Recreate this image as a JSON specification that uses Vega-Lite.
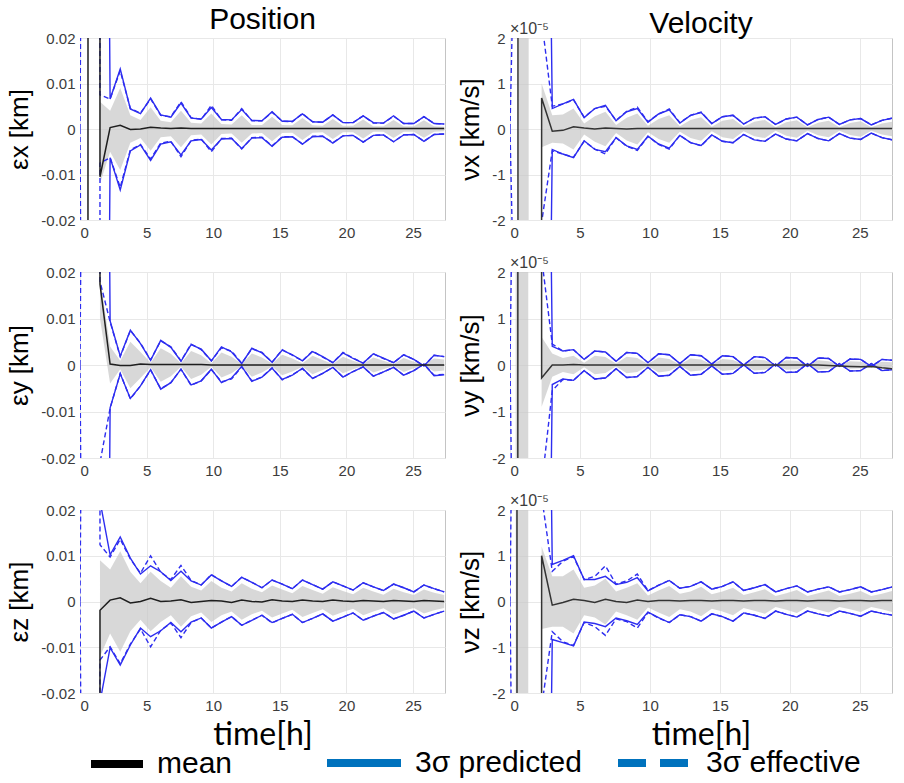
{
"$schema": "https://vega.github.io/schema/vega-lite/v6.json",
"background": "white",
"padding": {"left": 6, "top": 4, "right": 4, "bottom": 2},
"bounds": "flush",
"align": "each",
"columns": 2,
"spacing": {"row": 52, "column": 65},
"config": {
  "view": {"stroke": "#c4c4c4", "strokeWidth": 1},
  "font": "Liberation Sans",
  "axis": {"domain": false, "ticks": false, "grid": true, "gridColor": "#e8e8e8", "gridWidth": 1, "labelFont": "Liberation Sans", "labelFontSize": 15, "labelColor": "#3c3c3c", "labelPadding": 5, "titleFont": "Liberation Sans", "titleFontWeight": "normal", "titleColor": "black"},
  "axisY": {"titleFontSize": 26, "titlePadding": 8},
  "axisX": {"titleFontSize": 32, "titleFont": "Lato", "titlePadding": 6},
  "title": {"font": "Liberation Sans", "fontSize": 30, "fontWeight": "normal", "color": "black", "offset": -4},
  "legend": {"labelFont": "Liberation Sans", "labelFontSize": 30, "labelColor": "black", "labelLimit": 400, "symbolType": "stroke", "symbolStrokeWidth": 8, "symbolOpacity": 1, "direction": "horizontal", "orient": "none", "title": null, "labelOffset": 10, "columnPadding": 20}
},
"datasets": {
"A": [
{"t":0,"m":-0.3,"pu":0.3,"pl":-0.3,"eu":0,"el":0,"gu":0.3,"gl":0.3},
{"t":0.59,"m":-0.3,"pu":0.3,"pl":-0.3,"eu":0.3,"el":-0.3,"gu":0.3,"gl":0.3},
{"t":0.61,"m":0.3,"pu":0.3,"pl":-0.3,"eu":0.3,"el":-0.3,"gu":0.3,"gl":0.3},
{"t":1.49,"m":0.3,"pu":0.3,"pl":-0.3,"eu":0.3,"el":-0.3,"gu":0.3,"gl":0.3},
{"t":1.5,"m":-0.0105,"pu":0.3,"pl":-0.3,"eu":0.0075,"el":-0.0075,"gu":0.006,"gl":-0.012},
{"t":2.26,"m":0.0003,"pu":0.0066,"pl":-0.0063,"eu":0.0066,"el":-0.0063,"gu":0.004,"gl":-0.005},
{"t":3.02,"m":0.0008,"pu":0.0132,"pl":-0.0134,"eu":0.0128,"el":-0.0128,"gu":0.009,"gl":-0.009},
{"t":3.78,"m":-0.0001,"pu":0.0044,"pl":-0.0048,"eu":0.0045,"el":-0.0046,"gu":0.003,"gl":-0.003},
{"t":4.54,"m":0.0,"pu":0.0034,"pl":-0.0035,"eu":0.0035,"el":-0.0034,"gu":0.002,"gl":-0.002},
{"t":5.3,"m":0.0004,"pu":0.0068,"pl":-0.0069,"eu":0.0066,"el":-0.0066,"gu":0.0048,"gl":-0.0048},
{"t":6.06,"m":0.0002,"pu":0.0031,"pl":-0.0033,"eu":0.003,"el":-0.0031,"gu":0.0018,"gl":-0.0018},
{"t":6.82,"m":0.0001,"pu":0.0026,"pl":-0.0028,"eu":0.0027,"el":-0.0027,"gu":0.0015,"gl":-0.0016},
{"t":7.58,"m":0.0002,"pu":0.0057,"pl":-0.0057,"eu":0.006,"el":-0.0061,"gu":0.004,"gl":-0.004},
{"t":8.34,"m":0.0001,"pu":0.0024,"pl":-0.0026,"eu":0.0025,"el":-0.0025,"gu":0.0014,"gl":-0.0014},
{"t":9.1,"m":0.0001,"pu":0.0022,"pl":-0.0023,"eu":0.0021,"el":-0.0022,"gu":0.0012,"gl":-0.0012},
{"t":9.86,"m":0.0001,"pu":0.0047,"pl":-0.0046,"eu":0.0052,"el":-0.005,"gu":0.0034,"gl":-0.0034},
{"t":10.62,"m":0.0001,"pu":0.0021,"pl":-0.0022,"eu":0.002,"el":-0.0021,"gu":0.0011,"gl":-0.0011},
{"t":11.38,"m":0.0001,"pu":0.002,"pl":-0.0021,"eu":0.0019,"el":-0.002,"gu":0.001,"gl":-0.001},
{"t":12.14,"m":0.0001,"pu":0.0043,"pl":-0.0043,"eu":0.0045,"el":-0.0044,"gu":0.003,"gl":-0.003},
{"t":12.9,"m":0.0001,"pu":0.0019,"pl":-0.002,"eu":0.0018,"el":-0.0019,"gu":0.0009,"gl":-0.001},
{"t":13.66,"m":0.0001,"pu":0.0018,"pl":-0.0019,"eu":0.0018,"el":-0.0018,"gu":0.0009,"gl":-0.0009},
{"t":14.42,"m":0.0001,"pu":0.0038,"pl":-0.0038,"eu":0.0037,"el":-0.0037,"gu":0.0027,"gl":-0.0027},
{"t":15.18,"m":0.0001,"pu":0.0017,"pl":-0.0018,"eu":0.0017,"el":-0.0017,"gu":0.0009,"gl":-0.0009},
{"t":15.94,"m":0.0001,"pu":0.0017,"pl":-0.0017,"eu":0.0016,"el":-0.0017,"gu":0.0008,"gl":-0.0008},
{"t":16.7,"m":0.0001,"pu":0.0033,"pl":-0.0033,"eu":0.0034,"el":-0.0033,"gu":0.0024,"gl":-0.0024},
{"t":17.46,"m":0.0001,"pu":0.0016,"pl":-0.0017,"eu":0.0016,"el":-0.0016,"gu":0.0008,"gl":-0.0008},
{"t":18.22,"m":0.0001,"pu":0.0015,"pl":-0.0016,"eu":0.0015,"el":-0.0016,"gu":0.0007,"gl":-0.0007},
{"t":18.98,"m":0.0001,"pu":0.0031,"pl":-0.0031,"eu":0.0031,"el":-0.003,"gu":0.0022,"gl":-0.0022},
{"t":19.74,"m":0.0001,"pu":0.0014,"pl":-0.0015,"eu":0.0014,"el":-0.0015,"gu":0.0007,"gl":-0.0007},
{"t":20.5,"m":0.0001,"pu":0.0014,"pl":-0.0014,"eu":0.0014,"el":-0.0014,"gu":0.0007,"gl":-0.0007},
{"t":21.26,"m":0.0001,"pu":0.0029,"pl":-0.0029,"eu":0.0029,"el":-0.0029,"gu":0.0021,"gl":-0.0021},
{"t":22.02,"m":0.0001,"pu":0.0014,"pl":-0.0014,"eu":0.0013,"el":-0.0014,"gu":0.0006,"gl":-0.0006},
{"t":22.78,"m":0.0001,"pu":0.0013,"pl":-0.0013,"eu":0.0013,"el":-0.0013,"gu":0.0006,"gl":-0.0006},
{"t":23.54,"m":0.0001,"pu":0.0029,"pl":-0.0028,"eu":0.0028,"el":-0.0028,"gu":0.002,"gl":-0.002},
{"t":24.3,"m":0.0001,"pu":0.0012,"pl":-0.0013,"eu":0.0012,"el":-0.0013,"gu":0.0006,"gl":-0.0006},
{"t":25.06,"m":0.0001,"pu":0.0012,"pl":-0.0012,"eu":0.0012,"el":-0.0012,"gu":0.0006,"gl":-0.0006},
{"t":25.82,"m":0.0001,"pu":0.0027,"pl":-0.0027,"eu":0.0027,"el":-0.0027,"gu":0.0019,"gl":-0.0019},
{"t":26.58,"m":0.0001,"pu":0.0012,"pl":-0.0012,"eu":0.0012,"el":-0.0012,"gu":0.0006,"gl":-0.0006},
{"t":27.34,"m":0.0001,"pu":0.0011,"pl":-0.0011,"eu":0.0011,"el":-0.0011,"gu":0.0005,"gl":-0.0005}
],
"B": [
{"t":0,"m":0.3,"pu":0.3,"pl":-0.3,"eu":0,"el":0,"gu":-0.3,"gl":-0.3},
{"t":0.75,"m":0.3,"pu":0.3,"pl":-0.3,"eu":0.3,"el":-0.3,"gu":-0.3,"gl":-0.3},
{"t":1.49,"m":0.3,"pu":0.3,"pl":-0.3,"eu":0.3,"el":-0.3,"gu":-0.3,"gl":-0.3},
{"t":1.5,"m":0.0174,"pu":0.3,"pl":-0.3,"eu":0.018,"el":-0.021,"gu":0.019,"gl":0.01},
{"t":2.26,"m":0.0002,"pu":0.0095,"pl":-0.0092,"eu":0.0093,"el":-0.0093,"gu":0.004,"gl":-0.004},
{"t":3.02,"m":-0.0001,"pu":0.0019,"pl":-0.0019,"eu":0.0018,"el":-0.0018,"gu":0.0009,"gl":-0.0009},
{"t":3.78,"m":-0.0001,"pu":0.0075,"pl":-0.0072,"eu":0.0074,"el":-0.0073,"gu":0.005,"gl":-0.005},
{"t":4.54,"m":0.0002,"pu":0.0046,"pl":-0.0045,"eu":0.0047,"el":-0.0045,"gu":0.0028,"gl":-0.0028},
{"t":5.3,"m":0.0001,"pu":0.001,"pl":-0.001,"eu":0.0011,"el":-0.0011,"gu":0.0005,"gl":-0.0005},
{"t":6.06,"m":0.0001,"pu":0.0053,"pl":-0.0052,"eu":0.0052,"el":-0.0051,"gu":0.0036,"gl":-0.0036},
{"t":6.82,"m":0.0001,"pu":0.0038,"pl":-0.0038,"eu":0.0039,"el":-0.0038,"gu":0.0024,"gl":-0.0024},
{"t":7.58,"m":0.0001,"pu":0.0008,"pl":-0.0009,"eu":0.0009,"el":-0.0009,"gu":0.0004,"gl":-0.0004},
{"t":8.34,"m":0.0001,"pu":0.0044,"pl":-0.0043,"eu":0.0045,"el":-0.0044,"gu":0.003,"gl":-0.003},
{"t":9.1,"m":0.0001,"pu":0.0034,"pl":-0.0034,"eu":0.0033,"el":-0.0034,"gu":0.0021,"gl":-0.0021},
{"t":9.86,"m":0.0,"pu":0.0009,"pl":-0.0009,"eu":0.0009,"el":-0.001,"gu":0.0004,"gl":-0.0004},
{"t":10.62,"m":0.0,"pu":0.0039,"pl":-0.0038,"eu":0.0037,"el":-0.0036,"gu":0.0027,"gl":-0.0027},
{"t":11.38,"m":0.0,"pu":0.0028,"pl":-0.0028,"eu":0.003,"el":-0.003,"gu":0.0018,"gl":-0.0018},
{"t":12.14,"m":0.0,"pu":0.0003,"pl":-0.0003,"eu":0.0004,"el":-0.0004,"gu":0.0002,"gl":-0.0002},
{"t":12.9,"m":0.0,"pu":0.0036,"pl":-0.0035,"eu":0.0035,"el":-0.0034,"gu":0.0025,"gl":-0.0025},
{"t":13.66,"m":0.0,"pu":0.0026,"pl":-0.0026,"eu":0.0027,"el":-0.0026,"gu":0.0016,"gl":-0.0016},
{"t":14.42,"m":0.0,"pu":0.0006,"pl":-0.0007,"eu":0.0006,"el":-0.0006,"gu":0.0003,"gl":-0.0003},
{"t":15.18,"m":0.0,"pu":0.0032,"pl":-0.0031,"eu":0.0033,"el":-0.0032,"gu":0.0022,"gl":-0.0022},
{"t":15.94,"m":0.0,"pu":0.0022,"pl":-0.0022,"eu":0.0021,"el":-0.0021,"gu":0.0014,"gl":-0.0014},
{"t":16.7,"m":0.0,"pu":0.0009,"pl":-0.0007,"eu":0.0009,"el":-0.0008,"gu":0.0004,"gl":-0.0004},
{"t":17.46,"m":0.0,"pu":0.0029,"pl":-0.0029,"eu":0.003,"el":-0.0029,"gu":0.002,"gl":-0.002},
{"t":18.22,"m":0.0,"pu":0.0018,"pl":-0.0018,"eu":0.0017,"el":-0.0018,"gu":0.0011,"gl":-0.0011},
{"t":18.98,"m":0.0,"pu":0.0005,"pl":-0.0005,"eu":0.0005,"el":-0.0005,"gu":0.0002,"gl":-0.0002},
{"t":19.74,"m":0.0,"pu":0.0026,"pl":-0.0026,"eu":0.0027,"el":-0.0026,"gu":0.0018,"gl":-0.0018},
{"t":20.5,"m":0.0,"pu":0.0014,"pl":-0.0014,"eu":0.0015,"el":-0.0014,"gu":0.0009,"gl":-0.0009},
{"t":21.26,"m":0.0,"pu":0.0004,"pl":-0.0004,"eu":0.0004,"el":-0.0004,"gu":0.0002,"gl":-0.0002},
{"t":22.02,"m":0.0,"pu":0.0024,"pl":-0.0024,"eu":0.0024,"el":-0.0024,"gu":0.0016,"gl":-0.0016},
{"t":22.78,"m":0.0,"pu":0.0015,"pl":-0.0015,"eu":0.0014,"el":-0.0015,"gu":0.0009,"gl":-0.0009},
{"t":23.54,"m":0.0,"pu":0.0005,"pl":-0.0005,"eu":0.0005,"el":-0.0005,"gu":0.0002,"gl":-0.0002},
{"t":24.3,"m":0.0,"pu":0.0022,"pl":-0.0022,"eu":0.0022,"el":-0.0022,"gu":0.0015,"gl":-0.0015},
{"t":25.06,"m":0.0,"pu":0.0012,"pl":-0.0012,"eu":0.0012,"el":-0.0012,"gu":0.0007,"gl":-0.0007},
{"t":25.82,"m":0.0,"pu":-0.0002,"pl":0.0002,"eu":-0.0002,"el":0.0002,"gu":0.0001,"gl":-0.0001},
{"t":26.58,"m":0.0,"pu":0.0021,"pl":-0.0023,"eu":0.0021,"el":-0.0022,"gu":0.0014,"gl":-0.0014},
{"t":27.34,"m":0.0,"pu":0.0018,"pl":-0.0021,"eu":0.0018,"el":-0.002,"gu":0.0012,"gl":-0.0012}
],
"C": [
{"t":0,"m":-0.3,"pu":0.3,"pl":-0.3,"eu":0,"el":0,"gu":0.3,"gl":0.3},
{"t":0.75,"m":-0.3,"pu":0.3,"pl":-0.3,"eu":0.3,"el":-0.3,"gu":0.3,"gl":0.3},
{"t":1.49,"m":-0.3,"pu":0.3,"pl":-0.3,"eu":0.3,"el":-0.3,"gu":0.3,"gl":0.3},
{"t":1.5,"m":-0.0019,"pu":0.022,"pl":-0.022,"eu":0.0124,"el":-0.0128,"gu":0.009,"gl":-0.012},
{"t":2.26,"m":0.0003,"pu":0.0102,"pl":-0.0101,"eu":0.0097,"el":-0.0099,"gu":0.007,"gl":-0.007},
{"t":3.02,"m":0.0008,"pu":0.0141,"pl":-0.0139,"eu":0.0136,"el":-0.0136,"gu":0.011,"gl":-0.011},
{"t":3.78,"m":-0.0003,"pu":0.0095,"pl":-0.0095,"eu":0.0093,"el":-0.0093,"gu":0.0065,"gl":-0.0065},
{"t":4.54,"m":0.0,"pu":0.006,"pl":-0.0058,"eu":0.0062,"el":-0.006,"gu":0.004,"gl":-0.004},
{"t":5.3,"m":0.0007,"pu":0.0078,"pl":-0.0077,"eu":0.01,"el":-0.0099,"gu":0.0065,"gl":-0.0065},
{"t":6.06,"m":0.0,"pu":0.0065,"pl":-0.0064,"eu":0.0064,"el":-0.0063,"gu":0.0045,"gl":-0.0045},
{"t":6.82,"m":0.0001,"pu":0.0046,"pl":-0.0046,"eu":0.0048,"el":-0.0047,"gu":0.003,"gl":-0.003},
{"t":7.58,"m":0.0004,"pu":0.0066,"pl":-0.0066,"eu":0.0079,"el":-0.0079,"gu":0.0055,"gl":-0.0055},
{"t":8.34,"m":-0.0002,"pu":0.0045,"pl":-0.0045,"eu":0.0046,"el":-0.0046,"gu":0.0032,"gl":-0.0032},
{"t":9.1,"m":0.0,"pu":0.0036,"pl":-0.0036,"eu":0.0036,"el":-0.0036,"gu":0.0024,"gl":-0.0024},
{"t":9.86,"m":0.0002,"pu":0.0058,"pl":-0.0058,"eu":0.0059,"el":-0.0058,"gu":0.0045,"gl":-0.0045},
{"t":10.62,"m":0.0001,"pu":0.0045,"pl":-0.0045,"eu":0.0045,"el":-0.0045,"gu":0.003,"gl":-0.003},
{"t":11.38,"m":-0.0002,"pu":0.0033,"pl":-0.0033,"eu":0.0033,"el":-0.0033,"gu":0.0022,"gl":-0.0022},
{"t":12.14,"m":0.0003,"pu":0.0053,"pl":-0.0052,"eu":0.0053,"el":-0.0052,"gu":0.004,"gl":-0.004},
{"t":12.9,"m":0.0,"pu":0.0042,"pl":-0.0041,"eu":0.0042,"el":-0.0041,"gu":0.0028,"gl":-0.0028},
{"t":13.66,"m":-0.0001,"pu":0.003,"pl":-0.003,"eu":0.003,"el":-0.003,"gu":0.002,"gl":-0.002},
{"t":14.42,"m":0.0004,"pu":0.0047,"pl":-0.0046,"eu":0.0047,"el":-0.0047,"gu":0.0035,"gl":-0.0035},
{"t":15.18,"m":0.0001,"pu":0.0038,"pl":-0.0037,"eu":0.0038,"el":-0.0037,"gu":0.0026,"gl":-0.0026},
{"t":15.94,"m":0.0,"pu":0.0028,"pl":-0.0028,"eu":0.0028,"el":-0.0028,"gu":0.0018,"gl":-0.0018},
{"t":16.7,"m":0.0003,"pu":0.0047,"pl":-0.0046,"eu":0.0047,"el":-0.0046,"gu":0.0034,"gl":-0.0034},
{"t":17.46,"m":0.0001,"pu":0.0037,"pl":-0.0037,"eu":0.0037,"el":-0.0037,"gu":0.0025,"gl":-0.0025},
{"t":18.22,"m":0.0,"pu":0.0027,"pl":-0.0027,"eu":0.0027,"el":-0.0027,"gu":0.0017,"gl":-0.0017},
{"t":18.98,"m":0.0003,"pu":0.0043,"pl":-0.0043,"eu":0.0043,"el":-0.0043,"gu":0.0031,"gl":-0.0031},
{"t":19.74,"m":0.0001,"pu":0.0034,"pl":-0.0034,"eu":0.0034,"el":-0.0034,"gu":0.0023,"gl":-0.0023},
{"t":20.5,"m":0.0,"pu":0.0025,"pl":-0.0025,"eu":0.0025,"el":-0.0025,"gu":0.0016,"gl":-0.0016},
{"t":21.26,"m":0.0002,"pu":0.0041,"pl":-0.0041,"eu":0.0041,"el":-0.0041,"gu":0.003,"gl":-0.003},
{"t":22.02,"m":0.0001,"pu":0.0032,"pl":-0.0032,"eu":0.0032,"el":-0.0032,"gu":0.0022,"gl":-0.0022},
{"t":22.78,"m":0.0,"pu":0.0024,"pl":-0.0024,"eu":0.0024,"el":-0.0024,"gu":0.0015,"gl":-0.0015},
{"t":23.54,"m":0.0002,"pu":0.0038,"pl":-0.0038,"eu":0.0038,"el":-0.0038,"gu":0.0028,"gl":-0.0028},
{"t":24.3,"m":0.0001,"pu":0.003,"pl":-0.003,"eu":0.003,"el":-0.003,"gu":0.002,"gl":-0.002},
{"t":25.06,"m":0.0,"pu":0.0021,"pl":-0.0021,"eu":0.0021,"el":-0.0021,"gu":0.0014,"gl":-0.0014},
{"t":25.82,"m":0.0002,"pu":0.0036,"pl":-0.0036,"eu":0.0036,"el":-0.0036,"gu":0.0026,"gl":-0.0026},
{"t":26.58,"m":0.0001,"pu":0.0028,"pl":-0.0028,"eu":0.0028,"el":-0.0028,"gu":0.0019,"gl":-0.0019},
{"t":27.34,"m":0.0,"pu":0.0021,"pl":-0.0021,"eu":0.0021,"el":-0.0021,"gu":0.0014,"gl":-0.0014}
],
"D": [
{"t":0,"m":20,"pu":20,"pl":-20,"eu":0,"el":0,"gu":20,"gl":20},
{"t":0.56,"m":20,"pu":20,"pl":-20,"eu":8,"el":-8,"gu":20,"gl":20},
{"t":0.58,"m":-20,"pu":20,"pl":-20,"eu":8.3,"el":-8.3,"gu":20,"gl":20},
{"t":0.61,"m":-20,"pu":20,"pl":-20,"eu":8.7,"el":-8.7,"gu":20,"gl":20},
{"t":0.62,"m":-20,"pu":20,"pl":-20,"eu":8.8,"el":-8.8,"gu":20,"gl":-20},
{"t":1.33,"m":-20,"pu":20,"pl":-20,"eu":9,"el":-9,"gu":20,"gl":-20},
{"t":1.34,"m":-20,"pu":20,"pl":-20,"eu":9,"el":-9,"gu":-20,"gl":-20},
{"t":2.25,"m":-20,"pu":20,"pl":-20,"eu":2.4,"el":-2.05,"gu":-20,"gl":-20},
{"t":2.26,"m":0.68,"pu":20,"pl":-20,"eu":2.4,"el":-2.05,"gu":1.0,"gl":-0.4},
{"t":3.02,"m":-0.05,"pu":0.45,"pl":-0.45,"eu":0.5,"el":-0.48,"gu":0.3,"gl":-0.3},
{"t":3.78,"m":-0.03,"pu":0.55,"pl":-0.55,"eu":0.55,"el":-0.55,"gu":0.32,"gl":-0.32},
{"t":4.54,"m":0.05,"pu":0.65,"pl":-0.63,"eu":0.64,"el":-0.62,"gu":0.45,"gl":-0.45},
{"t":5.3,"m":0.02,"pu":0.25,"pl":-0.26,"eu":0.26,"el":-0.27,"gu":0.12,"gl":-0.12},
{"t":6.06,"m":0.0,"pu":0.45,"pl":-0.45,"eu":0.45,"el":-0.44,"gu":0.28,"gl":-0.28},
{"t":6.82,"m":0.02,"pu":0.52,"pl":-0.5,"eu":0.5,"el":-0.55,"gu":0.38,"gl":-0.38},
{"t":7.58,"m":0.01,"pu":0.18,"pl":-0.19,"eu":0.19,"el":-0.19,"gu":0.09,"gl":-0.09},
{"t":8.34,"m":0.0,"pu":0.38,"pl":-0.37,"eu":0.39,"el":-0.38,"gu":0.25,"gl":-0.25},
{"t":9.1,"m":0.01,"pu":0.45,"pl":-0.45,"eu":0.48,"el":-0.47,"gu":0.34,"gl":-0.34},
{"t":9.86,"m":0.01,"pu":0.15,"pl":-0.16,"eu":0.16,"el":-0.16,"gu":0.07,"gl":-0.07},
{"t":10.62,"m":0.01,"pu":0.33,"pl":-0.33,"eu":0.33,"el":-0.34,"gu":0.22,"gl":-0.22},
{"t":11.38,"m":0.01,"pu":0.42,"pl":-0.42,"eu":0.44,"el":-0.44,"gu":0.3,"gl":-0.3},
{"t":12.14,"m":0.01,"pu":0.13,"pl":-0.14,"eu":0.14,"el":-0.14,"gu":0.06,"gl":-0.06},
{"t":12.9,"m":0.01,"pu":0.3,"pl":-0.3,"eu":0.3,"el":-0.3,"gu":0.2,"gl":-0.2},
{"t":13.66,"m":0.01,"pu":0.36,"pl":-0.36,"eu":0.37,"el":-0.37,"gu":0.26,"gl":-0.26},
{"t":14.42,"m":0.01,"pu":0.12,"pl":-0.13,"eu":0.12,"el":-0.13,"gu":0.05,"gl":-0.05},
{"t":15.18,"m":0.01,"pu":0.27,"pl":-0.27,"eu":0.27,"el":-0.27,"gu":0.18,"gl":-0.18},
{"t":15.94,"m":0.01,"pu":0.3,"pl":-0.3,"eu":0.3,"el":-0.3,"gu":0.22,"gl":-0.22},
{"t":16.7,"m":0.01,"pu":0.11,"pl":-0.12,"eu":0.11,"el":-0.12,"gu":0.05,"gl":-0.05},
{"t":17.46,"m":0.01,"pu":0.24,"pl":-0.24,"eu":0.24,"el":-0.24,"gu":0.16,"gl":-0.16},
{"t":18.22,"m":0.01,"pu":0.27,"pl":-0.27,"eu":0.27,"el":-0.27,"gu":0.2,"gl":-0.2},
{"t":18.98,"m":0.01,"pu":0.1,"pl":-0.11,"eu":0.1,"el":-0.11,"gu":0.04,"gl":-0.04},
{"t":19.74,"m":0.01,"pu":0.22,"pl":-0.22,"eu":0.22,"el":-0.22,"gu":0.15,"gl":-0.15},
{"t":20.5,"m":0.01,"pu":0.26,"pl":-0.26,"eu":0.26,"el":-0.26,"gu":0.19,"gl":-0.19},
{"t":21.26,"m":0.01,"pu":0.09,"pl":-0.1,"eu":0.09,"el":-0.1,"gu":0.04,"gl":-0.04},
{"t":22.02,"m":0.01,"pu":0.21,"pl":-0.21,"eu":0.21,"el":-0.21,"gu":0.14,"gl":-0.14},
{"t":22.78,"m":0.01,"pu":0.26,"pl":-0.26,"eu":0.26,"el":-0.26,"gu":0.18,"gl":-0.18},
{"t":23.54,"m":0.01,"pu":0.1,"pl":-0.1,"eu":0.1,"el":-0.1,"gu":0.04,"gl":-0.04},
{"t":24.3,"m":0.01,"pu":0.2,"pl":-0.2,"eu":0.2,"el":-0.2,"gu":0.13,"gl":-0.13},
{"t":25.06,"m":0.01,"pu":0.23,"pl":-0.23,"eu":0.23,"el":-0.23,"gu":0.17,"gl":-0.17},
{"t":25.82,"m":0.01,"pu":0.09,"pl":-0.09,"eu":0.09,"el":-0.09,"gu":0.04,"gl":-0.04},
{"t":26.58,"m":0.01,"pu":0.19,"pl":-0.19,"eu":0.19,"el":-0.19,"gu":0.12,"gl":-0.12},
{"t":27.34,"m":0.01,"pu":0.24,"pl":-0.24,"eu":0.24,"el":-0.24,"gu":0.16,"gl":-0.16}
],
"E": [
{"t":0,"m":-20,"pu":20,"pl":-20,"eu":0,"el":0,"gu":20,"gl":20},
{"t":0.4,"m":-20,"pu":20,"pl":-20,"eu":9,"el":-9,"gu":20,"gl":20},
{"t":0.41,"m":-20,"pu":20,"pl":-20,"eu":9.2,"el":-9.2,"gu":20,"gl":-20},
{"t":0.55,"m":-20,"pu":20,"pl":-20,"eu":10,"el":-10,"gu":20,"gl":-20},
{"t":0.57,"m":20,"pu":20,"pl":-20,"eu":10,"el":-10,"gu":20,"gl":-20},
{"t":1.3,"m":20,"pu":20,"pl":-20,"eu":12,"el":-12,"gu":20,"gl":-20},
{"t":1.31,"m":20,"pu":20,"pl":-20,"eu":12,"el":-12,"gu":-20,"gl":-20},
{"t":2.25,"m":20,"pu":20,"pl":-20,"eu":2.3,"el":-2.6,"gu":-20,"gl":-20},
{"t":2.26,"m":-0.28,"pu":20,"pl":-20,"eu":2.3,"el":-2.6,"gu":0.6,"gl":-0.9},
{"t":3.02,"m":0.0,"pu":0.4,"pl":-0.42,"eu":0.45,"el":-0.55,"gu":0.25,"gl":-0.25},
{"t":3.78,"m":0.0,"pu":0.3,"pl":-0.3,"eu":0.3,"el":-0.31,"gu":0.15,"gl":-0.15},
{"t":4.54,"m":0.01,"pu":0.33,"pl":-0.33,"eu":0.33,"el":-0.33,"gu":0.2,"gl":-0.2},
{"t":5.3,"m":0.0,"pu":0.12,"pl":-0.12,"eu":0.12,"el":-0.12,"gu":0.05,"gl":-0.05},
{"t":6.06,"m":0.0,"pu":0.3,"pl":-0.3,"eu":0.3,"el":-0.3,"gu":0.2,"gl":-0.2},
{"t":6.82,"m":0.0,"pu":0.28,"pl":-0.28,"eu":0.28,"el":-0.28,"gu":0.17,"gl":-0.17},
{"t":7.58,"m":0.0,"pu":0.08,"pl":-0.08,"eu":0.08,"el":-0.08,"gu":0.03,"gl":-0.03},
{"t":8.34,"m":0.0,"pu":0.27,"pl":-0.27,"eu":0.27,"el":-0.27,"gu":0.18,"gl":-0.18},
{"t":9.1,"m":0.0,"pu":0.25,"pl":-0.25,"eu":0.25,"el":-0.25,"gu":0.15,"gl":-0.15},
{"t":9.86,"m":0.0,"pu":0.05,"pl":-0.05,"eu":0.05,"el":-0.05,"gu":0.02,"gl":-0.02},
{"t":10.62,"m":0.0,"pu":0.24,"pl":-0.24,"eu":0.24,"el":-0.24,"gu":0.16,"gl":-0.16},
{"t":11.38,"m":0.0,"pu":0.22,"pl":-0.22,"eu":0.22,"el":-0.22,"gu":0.13,"gl":-0.13},
{"t":12.14,"m":0.0,"pu":0.03,"pl":-0.03,"eu":0.03,"el":-0.03,"gu":0.01,"gl":-0.01},
{"t":12.9,"m":0.0,"pu":0.22,"pl":-0.22,"eu":0.22,"el":-0.22,"gu":0.14,"gl":-0.14},
{"t":13.66,"m":0.0,"pu":0.2,"pl":-0.2,"eu":0.2,"el":-0.2,"gu":0.12,"gl":-0.12},
{"t":14.42,"m":0.0,"pu":0.02,"pl":-0.02,"eu":0.02,"el":-0.02,"gu":0.01,"gl":-0.01},
{"t":15.18,"m":0.0,"pu":0.2,"pl":-0.2,"eu":0.2,"el":-0.2,"gu":0.13,"gl":-0.13},
{"t":15.94,"m":0.0,"pu":0.18,"pl":-0.18,"eu":0.18,"el":-0.18,"gu":0.11,"gl":-0.11},
{"t":16.7,"m":0.0,"pu":0.0,"pl":0.0,"eu":0.0,"el":0.0,"gu":0.01,"gl":-0.01},
{"t":17.46,"m":0.0,"pu":0.18,"pl":-0.18,"eu":0.18,"el":-0.18,"gu":0.12,"gl":-0.12},
{"t":18.22,"m":0.0,"pu":0.16,"pl":-0.16,"eu":0.16,"el":-0.16,"gu":0.1,"gl":-0.1},
{"t":18.98,"m":0.0,"pu":-0.02,"pl":0.02,"eu":-0.02,"el":0.02,"gu":0.01,"gl":-0.01},
{"t":19.74,"m":0.0,"pu":0.16,"pl":-0.16,"eu":0.16,"el":-0.16,"gu":0.1,"gl":-0.1},
{"t":20.5,"m":0.0,"pu":0.15,"pl":-0.15,"eu":0.15,"el":-0.15,"gu":0.09,"gl":-0.09},
{"t":21.26,"m":0.0,"pu":-0.03,"pl":0.03,"eu":-0.03,"el":0.03,"gu":0.01,"gl":-0.01},
{"t":22.02,"m":0.0,"pu":0.15,"pl":-0.15,"eu":0.15,"el":-0.15,"gu":0.1,"gl":-0.1},
{"t":22.78,"m":-0.01,"pu":0.14,"pl":-0.14,"eu":0.14,"el":-0.14,"gu":0.08,"gl":-0.08},
{"t":23.54,"m":-0.02,"pu":-0.03,"pl":0.03,"eu":-0.03,"el":0.03,"gu":0.01,"gl":-0.01},
{"t":24.3,"m":-0.03,"pu":0.13,"pl":-0.13,"eu":0.13,"el":-0.13,"gu":0.08,"gl":-0.08},
{"t":25.06,"m":-0.04,"pu":0.12,"pl":-0.12,"eu":0.12,"el":-0.12,"gu":0.07,"gl":-0.07},
{"t":25.82,"m":-0.03,"pu":-0.03,"pl":0.03,"eu":-0.03,"el":0.03,"gu":0.01,"gl":-0.01},
{"t":26.58,"m":-0.06,"pu":0.12,"pl":-0.12,"eu":0.12,"el":-0.12,"gu":0.07,"gl":-0.07},
{"t":27.34,"m":-0.08,"pu":0.1,"pl":-0.1,"eu":0.1,"el":-0.1,"gu":0.06,"gl":-0.06}
],
"F": [
{"t":0,"m":20,"pu":20,"pl":-20,"eu":0,"el":0,"gu":20,"gl":20},
{"t":0.4,"m":20,"pu":20,"pl":-20,"eu":11,"el":-11,"gu":20,"gl":20},
{"t":0.41,"m":20,"pu":20,"pl":-20,"eu":11.2,"el":-11.2,"gu":20,"gl":-20},
{"t":0.49,"m":20,"pu":20,"pl":-20,"eu":13,"el":-13,"gu":20,"gl":-20},
{"t":0.51,"m":-20,"pu":20,"pl":-20,"eu":13,"el":-13,"gu":20,"gl":-20},
{"t":1.3,"m":-20,"pu":20,"pl":-20,"eu":15,"el":-15,"gu":20,"gl":-20},
{"t":1.31,"m":-20,"pu":20,"pl":-20,"eu":15,"el":-15,"gu":-20,"gl":-20},
{"t":2.25,"m":-20,"pu":20,"pl":-20,"eu":2.3,"el":-2.3,"gu":-20,"gl":-20},
{"t":2.26,"m":1.0,"pu":20,"pl":-20,"eu":2.3,"el":-2.3,"gu":1.2,"gl":-0.6},
{"t":3.02,"m":-0.08,"pu":0.81,"pl":-0.83,"eu":0.66,"el":-0.66,"gu":0.55,"gl":-0.55},
{"t":3.78,"m":-0.02,"pu":0.9,"pl":-0.9,"eu":0.88,"el":-0.88,"gu":0.55,"gl":-0.55},
{"t":4.54,"m":0.05,"pu":1.0,"pl":-0.97,"eu":0.98,"el":-0.96,"gu":0.7,"gl":-0.7},
{"t":5.3,"m":0.02,"pu":0.48,"pl":-0.45,"eu":0.48,"el":-0.46,"gu":0.3,"gl":-0.3},
{"t":6.06,"m":-0.02,"pu":0.48,"pl":-0.48,"eu":0.55,"el":-0.55,"gu":0.35,"gl":-0.35},
{"t":6.82,"m":0.05,"pu":0.55,"pl":-0.55,"eu":0.78,"el":-0.74,"gu":0.5,"gl":-0.5},
{"t":7.58,"m":0.0,"pu":0.37,"pl":-0.36,"eu":0.38,"el":-0.38,"gu":0.22,"gl":-0.22},
{"t":8.34,"m":-0.02,"pu":0.42,"pl":-0.42,"eu":0.45,"el":-0.44,"gu":0.3,"gl":-0.3},
{"t":9.1,"m":0.03,"pu":0.52,"pl":-0.5,"eu":0.6,"el":-0.58,"gu":0.4,"gl":-0.4},
{"t":9.86,"m":0.0,"pu":0.23,"pl":-0.23,"eu":0.24,"el":-0.24,"gu":0.13,"gl":-0.13},
{"t":10.62,"m":0.02,"pu":0.35,"pl":-0.35,"eu":0.36,"el":-0.36,"gu":0.24,"gl":-0.24},
{"t":11.38,"m":0.02,"pu":0.46,"pl":-0.46,"eu":0.46,"el":-0.46,"gu":0.34,"gl":-0.34},
{"t":12.14,"m":0.01,"pu":0.29,"pl":-0.29,"eu":0.29,"el":-0.29,"gu":0.17,"gl":-0.17},
{"t":12.9,"m":0.02,"pu":0.33,"pl":-0.33,"eu":0.33,"el":-0.33,"gu":0.22,"gl":-0.22},
{"t":13.66,"m":0.02,"pu":0.43,"pl":-0.43,"eu":0.43,"el":-0.43,"gu":0.32,"gl":-0.32},
{"t":14.42,"m":0.01,"pu":0.27,"pl":-0.27,"eu":0.27,"el":-0.27,"gu":0.16,"gl":-0.16},
{"t":15.18,"m":0.02,"pu":0.33,"pl":-0.33,"eu":0.33,"el":-0.33,"gu":0.22,"gl":-0.22},
{"t":15.94,"m":0.02,"pu":0.43,"pl":-0.43,"eu":0.43,"el":-0.43,"gu":0.3,"gl":-0.3},
{"t":16.7,"m":0.01,"pu":0.24,"pl":-0.25,"eu":0.24,"el":-0.25,"gu":0.14,"gl":-0.14},
{"t":17.46,"m":0.02,"pu":0.3,"pl":-0.3,"eu":0.3,"el":-0.3,"gu":0.2,"gl":-0.2},
{"t":18.22,"m":0.02,"pu":0.37,"pl":-0.37,"eu":0.37,"el":-0.37,"gu":0.27,"gl":-0.27},
{"t":18.98,"m":0.01,"pu":0.21,"pl":-0.21,"eu":0.21,"el":-0.21,"gu":0.12,"gl":-0.12},
{"t":19.74,"m":0.02,"pu":0.28,"pl":-0.28,"eu":0.28,"el":-0.28,"gu":0.18,"gl":-0.18},
{"t":20.5,"m":0.02,"pu":0.34,"pl":-0.34,"eu":0.34,"el":-0.34,"gu":0.25,"gl":-0.25},
{"t":21.26,"m":0.01,"pu":0.21,"pl":-0.21,"eu":0.21,"el":-0.21,"gu":0.12,"gl":-0.12},
{"t":22.02,"m":0.02,"pu":0.27,"pl":-0.27,"eu":0.27,"el":-0.27,"gu":0.18,"gl":-0.18},
{"t":22.78,"m":0.02,"pu":0.32,"pl":-0.32,"eu":0.32,"el":-0.32,"gu":0.24,"gl":-0.24},
{"t":23.54,"m":0.01,"pu":0.21,"pl":-0.21,"eu":0.21,"el":-0.21,"gu":0.12,"gl":-0.12},
{"t":24.3,"m":0.02,"pu":0.26,"pl":-0.26,"eu":0.26,"el":-0.26,"gu":0.17,"gl":-0.17},
{"t":25.06,"m":0.02,"pu":0.32,"pl":-0.32,"eu":0.32,"el":-0.32,"gu":0.23,"gl":-0.23},
{"t":25.82,"m":0.01,"pu":0.21,"pl":-0.21,"eu":0.21,"el":-0.21,"gu":0.12,"gl":-0.12},
{"t":26.58,"m":0.02,"pu":0.26,"pl":-0.26,"eu":0.26,"el":-0.26,"gu":0.17,"gl":-0.17},
{"t":27.34,"m":0.02,"pu":0.32,"pl":-0.3,"eu":0.32,"el":-0.3,"gu":0.23,"gl":-0.23}
],
"note": [{"lab": "×10⁻⁵", "t": 0, "v": 2}],
"legMean": [{"s": "mean", "t": 10, "v": 0}, {"s": "mean", "t": 11, "v": 0}],
"legBlue": [{"s2": "3σ predicted", "t": 10, "v": 0}, {"s2": "3σ predicted", "t": 11, "v": 0}, {"s2": "3σ effective", "t": 10, "v": 0}, {"s2": "3σ effective", "t": 11, "v": 0}]
},
"concat": [
 {"width": 365, "height": 182, "data": {"name": "A"},
  "title": {"text": "Position", "offset": -4},
  "encoding": {"x": {"field": "t", "type": "quantitative", "scale": {"domain": [0, 27.4], "nice": false}, "axis": {"values": [0,5,10,15,20,25], "title": null}}},
  "layer": [
   {"mark": {"type": "area", "color": "#c8c8c8", "opacity": 0.7, "clip": true}, "encoding": {"y": {"field": "gu", "type": "quantitative", "scale": {"domain": [-0.02, 0.02], "nice": false, "zero": false}, "title": "εx [km]", "axis": {"values": [-0.02,-0.01,0,0.01,0.02], "labelExpr": "datum.value < 0 ? '-' + format(-datum.value, '~g') : format(datum.value, '~g')"}}, "y2": {"field": "gl"}}},
   {"mark": {"type": "line", "color": "#2d2df0", "strokeWidth": 1.4, "strokeDash": [5, 3], "clip": true}, "encoding": {"y": {"field": "eu", "type": "quantitative", "title": "εx [km]"}}},
   {"mark": {"type": "line", "color": "#2d2df0", "strokeWidth": 1.4, "strokeDash": [5, 3], "clip": true}, "encoding": {"y": {"field": "el", "type": "quantitative", "title": "εx [km]"}}},
   {"mark": {"type": "line", "color": "#2d2df0", "strokeWidth": 1.4, "clip": true}, "encoding": {"y": {"field": "pu", "type": "quantitative", "title": "εx [km]"}}},
   {"mark": {"type": "line", "color": "#2d2df0", "strokeWidth": 1.4, "clip": true}, "encoding": {"y": {"field": "pl", "type": "quantitative", "title": "εx [km]"}}},
   {"mark": {"type": "line", "color": "#1e1e1e", "strokeWidth": 1.5, "clip": true}, "encoding": {"y": {"field": "m", "type": "quantitative", "title": "εx [km]"}}}
  ]},
 {"width": 382, "height": 182, "data": {"name": "D"},
  "title": {"text": "Velocity", "offset": -18},
  "encoding": {"x": {"field": "t", "type": "quantitative", "scale": {"domain": [0, 27.3], "nice": false}, "axis": {"values": [0,5,10,15,20,25], "title": null}}},
  "layer": [
   {"mark": {"type": "area", "color": "#c8c8c8", "opacity": 0.7, "clip": true}, "encoding": {"y": {"field": "gu", "type": "quantitative", "scale": {"domain": [-2, 2], "nice": false, "zero": false}, "title": "νx [km/s]", "axis": {"values": [-2,-1,0,1,2], "labelExpr": "datum.value < 0 ? '-' + format(-datum.value, '~g') : format(datum.value, '~g')"}}, "y2": {"field": "gl"}}},
   {"mark": {"type": "line", "color": "#2d2df0", "strokeWidth": 1.4, "strokeDash": [5, 3], "clip": true}, "encoding": {"y": {"field": "eu", "type": "quantitative", "title": "νx [km/s]"}}},
   {"mark": {"type": "line", "color": "#2d2df0", "strokeWidth": 1.4, "strokeDash": [5, 3], "clip": true}, "encoding": {"y": {"field": "el", "type": "quantitative", "title": "νx [km/s]"}}},
   {"mark": {"type": "line", "color": "#2d2df0", "strokeWidth": 1.4, "clip": true}, "encoding": {"y": {"field": "pu", "type": "quantitative", "title": "νx [km/s]"}}},
   {"mark": {"type": "line", "color": "#2d2df0", "strokeWidth": 1.4, "clip": true}, "encoding": {"y": {"field": "pl", "type": "quantitative", "title": "νx [km/s]"}}},
   {"mark": {"type": "line", "color": "#333333", "strokeWidth": 1.5, "clip": true}, "encoding": {"y": {"field": "m", "type": "quantitative", "title": "νx [km/s]"}}},
   {"data": {"name": "note"}, "mark": {"type": "text", "align": "left", "baseline": "bottom", "dy": -1, "fontSize": 16, "color": "#3c3c3c", "font": "Liberation Sans", "clip": false}, "encoding": {"x": {"field": "t", "type": "quantitative"}, "y": {"field": "v", "type": "quantitative", "title": "νx [km/s]"}, "text": {"field": "lab"}}}
  ]},
 {"width": 365, "height": 186, "data": {"name": "B"},
  "encoding": {"x": {"field": "t", "type": "quantitative", "scale": {"domain": [0, 27.4], "nice": false}, "axis": {"values": [0,5,10,15,20,25], "title": null}}},
  "layer": [
   {"mark": {"type": "area", "color": "#c8c8c8", "opacity": 0.7, "clip": true}, "encoding": {"y": {"field": "gu", "type": "quantitative", "scale": {"domain": [-0.02, 0.02], "nice": false, "zero": false}, "title": "εy [km]", "axis": {"values": [-0.02,-0.01,0,0.01,0.02], "labelExpr": "datum.value < 0 ? '-' + format(-datum.value, '~g') : format(datum.value, '~g')"}}, "y2": {"field": "gl"}}},
   {"mark": {"type": "line", "color": "#2d2df0", "strokeWidth": 1.4, "strokeDash": [5, 3], "clip": true}, "encoding": {"y": {"field": "eu", "type": "quantitative", "title": "εy [km]"}}},
   {"mark": {"type": "line", "color": "#2d2df0", "strokeWidth": 1.4, "strokeDash": [5, 3], "clip": true}, "encoding": {"y": {"field": "el", "type": "quantitative", "title": "εy [km]"}}},
   {"mark": {"type": "line", "color": "#2d2df0", "strokeWidth": 1.4, "clip": true}, "encoding": {"y": {"field": "pu", "type": "quantitative", "title": "εy [km]"}}},
   {"mark": {"type": "line", "color": "#2d2df0", "strokeWidth": 1.4, "clip": true}, "encoding": {"y": {"field": "pl", "type": "quantitative", "title": "εy [km]"}}},
   {"mark": {"type": "line", "color": "#1e1e1e", "strokeWidth": 1.5, "clip": true}, "encoding": {"y": {"field": "m", "type": "quantitative", "title": "εy [km]"}}}
  ]},
 {"width": 382, "height": 186, "data": {"name": "E"},
  "encoding": {"x": {"field": "t", "type": "quantitative", "scale": {"domain": [0, 27.3], "nice": false}, "axis": {"values": [0,5,10,15,20,25], "title": null}}},
  "layer": [
   {"mark": {"type": "area", "color": "#c8c8c8", "opacity": 0.7, "clip": true}, "encoding": {"y": {"field": "gu", "type": "quantitative", "scale": {"domain": [-2, 2], "nice": false, "zero": false}, "title": "νy [km/s]", "axis": {"values": [-2,-1,0,1,2], "labelExpr": "datum.value < 0 ? '-' + format(-datum.value, '~g') : format(datum.value, '~g')"}}, "y2": {"field": "gl"}}},
   {"mark": {"type": "line", "color": "#2d2df0", "strokeWidth": 1.4, "strokeDash": [5, 3], "clip": true}, "encoding": {"y": {"field": "eu", "type": "quantitative", "title": "νy [km/s]"}}},
   {"mark": {"type": "line", "color": "#2d2df0", "strokeWidth": 1.4, "strokeDash": [5, 3], "clip": true}, "encoding": {"y": {"field": "el", "type": "quantitative", "title": "νy [km/s]"}}},
   {"mark": {"type": "line", "color": "#2d2df0", "strokeWidth": 1.4, "clip": true}, "encoding": {"y": {"field": "pu", "type": "quantitative", "title": "νy [km/s]"}}},
   {"mark": {"type": "line", "color": "#2d2df0", "strokeWidth": 1.4, "clip": true}, "encoding": {"y": {"field": "pl", "type": "quantitative", "title": "νy [km/s]"}}},
   {"mark": {"type": "line", "color": "#333333", "strokeWidth": 1.5, "clip": true}, "encoding": {"y": {"field": "m", "type": "quantitative", "title": "νy [km/s]"}}},
   {"data": {"name": "note"}, "mark": {"type": "text", "align": "left", "baseline": "bottom", "dy": -1, "fontSize": 16, "color": "#3c3c3c", "font": "Liberation Sans", "clip": false}, "encoding": {"x": {"field": "t", "type": "quantitative"}, "y": {"field": "v", "type": "quantitative", "title": "νy [km/s]"}, "text": {"field": "lab"}}}
  ]},
 {"width": 365, "height": 183, "data": {"name": "C"},
  "encoding": {"x": {"field": "t", "type": "quantitative", "scale": {"domain": [0, 27.4], "nice": false}, "axis": {"values": [0,5,10,15,20,25], "title": "time[h]"}}},
  "layer": [
   {"mark": {"type": "area", "color": "#c8c8c8", "opacity": 0.7, "clip": true}, "encoding": {"y": {"field": "gu", "type": "quantitative", "scale": {"domain": [-0.02, 0.02], "nice": false, "zero": false}, "title": "εz [km]", "axis": {"values": [-0.02,-0.01,0,0.01,0.02], "labelExpr": "datum.value < 0 ? '-' + format(-datum.value, '~g') : format(datum.value, '~g')"}}, "y2": {"field": "gl"}}},
   {"mark": {"type": "line", "color": "#2d2df0", "strokeWidth": 1.4, "strokeDash": [5, 3], "clip": true}, "encoding": {"y": {"field": "eu", "type": "quantitative", "title": "εz [km]"}}},
   {"mark": {"type": "line", "color": "#2d2df0", "strokeWidth": 1.4, "strokeDash": [5, 3], "clip": true}, "encoding": {"y": {"field": "el", "type": "quantitative", "title": "εz [km]"}}},
   {"mark": {"type": "line", "color": "#2d2df0", "strokeWidth": 1.4, "clip": true}, "encoding": {"y": {"field": "pu", "type": "quantitative", "title": "εz [km]"}}},
   {"mark": {"type": "line", "color": "#2d2df0", "strokeWidth": 1.4, "clip": true}, "encoding": {"y": {"field": "pl", "type": "quantitative", "title": "εz [km]"}}},
   {"mark": {"type": "line", "color": "#1e1e1e", "strokeWidth": 1.5, "clip": true}, "encoding": {"y": {"field": "m", "type": "quantitative", "title": "εz [km]"}}},
   {"data": {"name": "legMean"}, "mark": {"type": "line", "opacity": 0}, "encoding": {"y": {"field": "v", "type": "quantitative", "title": "εz [km]"}, "stroke": {"field": "s", "type": "nominal", "scale": {"domain": ["mean"], "range": ["black"]}, "legend": {"legendX": 7, "legendY": 696, "symbolSize": 2704}}}},
   {"data": {"name": "legBlue"}, "mark": {"type": "line", "opacity": 0, "color": "#0072BD"}, "encoding": {"y": {"field": "v", "type": "quantitative", "title": "εz [km]"}, "strokeDash": {"field": "s2", "type": "nominal", "scale": {"domain": ["3σ predicted", "3σ effective"], "range": [[1, 0], [28, 14]]}, "legend": {"legendX": 243, "legendY": 684, "symbolSize": 5476}}}}
  ]},
 {"width": 382, "height": 183, "data": {"name": "F"},
  "encoding": {"x": {"field": "t", "type": "quantitative", "scale": {"domain": [0, 27.3], "nice": false}, "axis": {"values": [0,5,10,15,20,25], "title": "time[h]"}}},
  "layer": [
   {"mark": {"type": "area", "color": "#c8c8c8", "opacity": 0.7, "clip": true}, "encoding": {"y": {"field": "gu", "type": "quantitative", "scale": {"domain": [-2, 2], "nice": false, "zero": false}, "title": "νz [km/s]", "axis": {"values": [-2,-1,0,1,2], "labelExpr": "datum.value < 0 ? '-' + format(-datum.value, '~g') : format(datum.value, '~g')"}}, "y2": {"field": "gl"}}},
   {"mark": {"type": "line", "color": "#2d2df0", "strokeWidth": 1.4, "strokeDash": [5, 3], "clip": true}, "encoding": {"y": {"field": "eu", "type": "quantitative", "title": "νz [km/s]"}}},
   {"mark": {"type": "line", "color": "#2d2df0", "strokeWidth": 1.4, "strokeDash": [5, 3], "clip": true}, "encoding": {"y": {"field": "el", "type": "quantitative", "title": "νz [km/s]"}}},
   {"mark": {"type": "line", "color": "#2d2df0", "strokeWidth": 1.4, "clip": true}, "encoding": {"y": {"field": "pu", "type": "quantitative", "title": "νz [km/s]"}}},
   {"mark": {"type": "line", "color": "#2d2df0", "strokeWidth": 1.4, "clip": true}, "encoding": {"y": {"field": "pl", "type": "quantitative", "title": "νz [km/s]"}}},
   {"mark": {"type": "line", "color": "#333333", "strokeWidth": 1.5, "clip": true}, "encoding": {"y": {"field": "m", "type": "quantitative", "title": "νz [km/s]"}}},
   {"data": {"name": "note"}, "mark": {"type": "text", "align": "left", "baseline": "bottom", "dy": -1, "fontSize": 16, "color": "#3c3c3c", "font": "Liberation Sans", "clip": false}, "encoding": {"x": {"field": "t", "type": "quantitative"}, "y": {"field": "v", "type": "quantitative", "title": "νz [km/s]"}, "text": {"field": "lab"}}}
  ]}
]
}
